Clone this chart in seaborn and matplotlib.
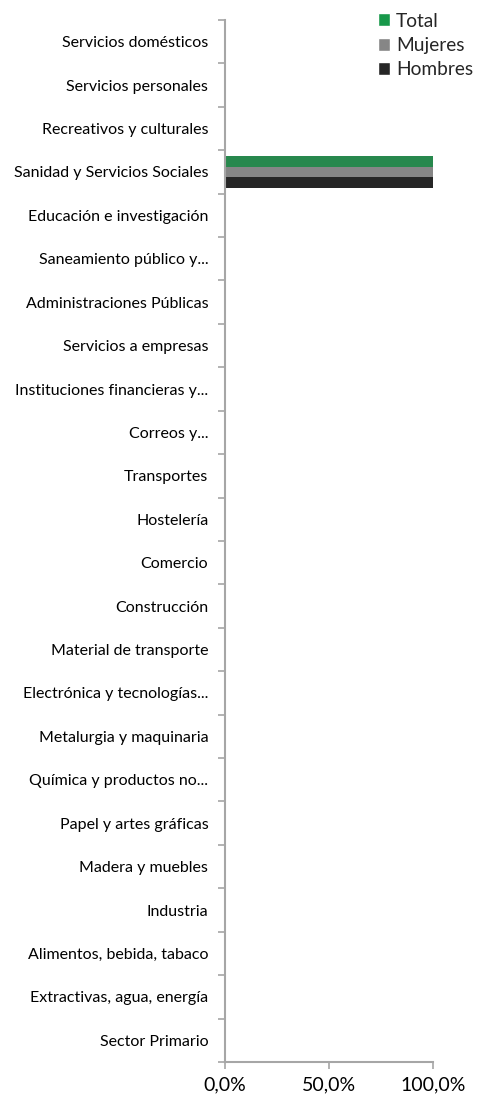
import matplotlib
matplotlib.use("Agg")
import matplotlib.pyplot as plt
import seaborn as sns
import pandas as pd
import numpy as np
from matplotlib.patches import Patch
from matplotlib.ticker import FuncFormatter, FixedLocator

categories = [
    "Servicios domésticos", "Servicios personales", "Recreativos y culturales",
    "Sanidad y Servicios Sociales", "Educación e investigación", "Saneamiento público y...",
    "Administraciones Públicas", "Servicios a empresas", "Instituciones financieras y...",
    "Correos y...", "Transportes", "Hostelería", "Comercio", "Construcción",
    "Material de transporte", "Electrónica y tecnologías...", "Metalurgia y maquinaria",
    "Química y productos no...", "Papel y artes gráficas", "Madera y muebles", "Industria",
    "Alimentos, bebida, tabaco", "Extractivas, agua, energía", "Sector Primario",
]
total = [0.0, 0.0, 0.0, 1.0] + [0.0] * 20
mujeres = [0.0, 0.0, 0.0, 1.0] + [0.0] * 20
hombres = [0.0, 0.0, 0.0, 1.0] + [0.0] * 20
series = ["Total", "Mujeres", "Hombres"]
colors = ["#17984a", "#868686", "#262626"]

rows = []
for name, vals in zip(series, [total, mujeres, hombres]):
    for c, v in zip(categories, vals):
        rows.append({"cat": c, "serie": name, "val": v})
df = pd.DataFrame(rows)

sns.set_theme(style="white")
plt.rcParams["font.family"] = ["Lato", "DejaVu Sans"]

fig = plt.figure(figsize=(4.89, 10.94), dpi=100)
ax = fig.add_axes([225 / 489, 1 - 1062 / 1094, (433 - 225) / 489, (1062 - 20) / 1094])
sns.barplot(data=df, x="val", y="cat", hue="serie", hue_order=series, order=categories,
            palette=colors, orient="h", ax=ax, width=0.72, legend=False,
            edgecolor="none", linewidth=0)
ax.set_xlim(0, 1.0)
ax.set_ylim(len(categories) - 0.5, -0.5)
ax.set_xticks([0, 0.5, 1.0])
ax.xaxis.set_major_formatter(FuncFormatter(lambda v, p: f"{v*100:.1f}%".replace(".", ",")))
ax.yaxis.set_minor_locator(FixedLocator(np.arange(-0.5, len(categories), 1.0)))
ax.set_xlabel("")
ax.set_ylabel("")
ax.tick_params(axis="y", which="major", labelsize=11.5, labelcolor="black", length=0, pad=12)
ax.tick_params(axis="y", which="minor", left=True, length=5, width=1.2, color="#a6a6a6")
ax.tick_params(axis="x", labelsize=14, colors="#a6a6a6", labelcolor="black", length=5,
               width=1.2, direction="out", bottom=True, pad=5)
for s in ["top", "right"]:
    ax.spines[s].set_visible(False)
for s in ["left", "bottom"]:
    ax.spines[s].set_color("#a6a6a6")
    ax.spines[s].set_linewidth(1.5)

handles = [Patch(facecolor=c, label=n) for c, n in zip(colors, series)]
fig.legend(handles=handles, loc="upper left", bbox_to_anchor=(368 / 489, 1 - 3 / 1094),
           frameon=False, fontsize=13.8, handlelength=0.65, handleheight=0.65,
           handletextpad=0.3, labelspacing=0.38, borderpad=0)

fig.savefig("out.png", dpi=100)
